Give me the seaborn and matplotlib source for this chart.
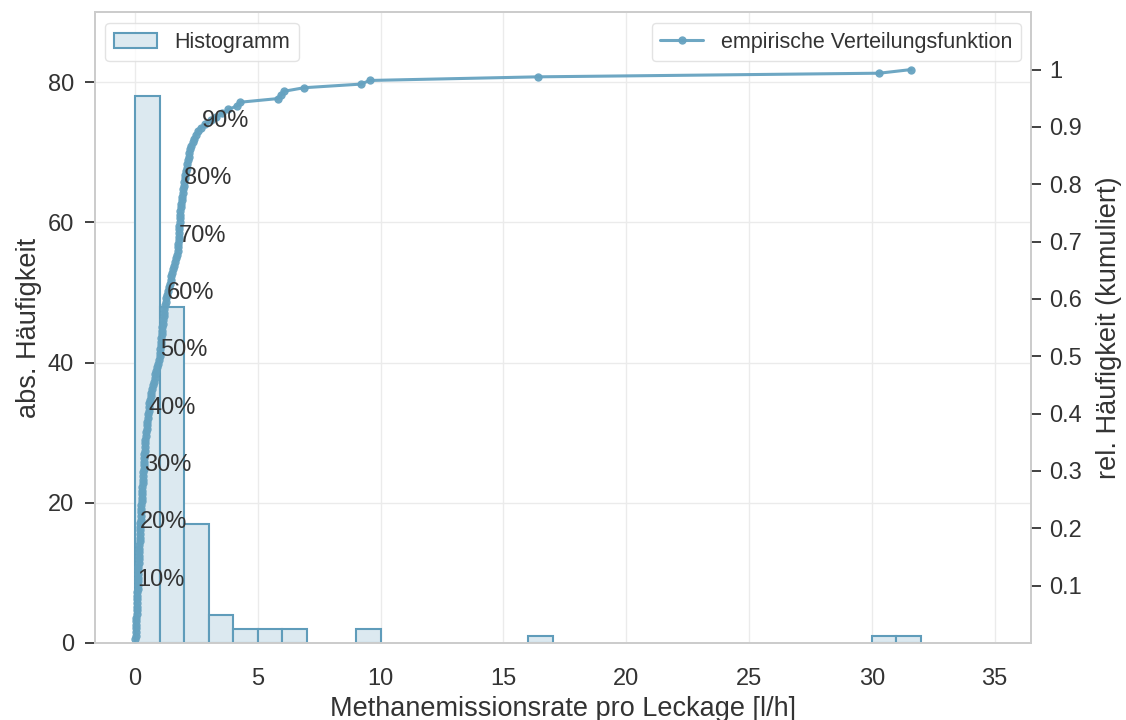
import numpy as np
import pandas as pd
import matplotlib
matplotlib.use("Agg")
import matplotlib.pyplot as plt
import seaborn as sns
from matplotlib.ticker import FormatStrFormatter

# ---- data ----
bin0 = [0.01, 0.02, 0.03, 0.03, 0.04, 0.05, 0.05, 0.06, 0.07, 0.07, 0.08, 0.08, 0.09, 0.09, 0.10, 0.10,
        0.11, 0.11, 0.12, 0.12,
        0.13, 0.14, 0.14, 0.15, 0.16, 0.16, 0.17, 0.18, 0.18, 0.19, 0.20, 0.20, 0.21, 0.22, 0.23, 0.24,
        0.25, 0.26,
        0.27, 0.28, 0.29, 0.30, 0.30, 0.31, 0.32, 0.33, 0.34, 0.35, 0.36, 0.36, 0.37, 0.38, 0.39, 0.40,
        0.41, 0.42, 0.44,
        0.46, 0.47, 0.49, 0.50, 0.52, 0.53, 0.55, 0.56, 0.58, 0.60,
        0.63, 0.66, 0.69, 0.72, 0.75, 0.79, 0.83, 0.87, 0.91, 0.94, 0.98]
bin1 = [1.01, 1.02, 1.03, 1.05, 1.06, 1.07, 1.09, 1.10, 1.11, 1.13, 1.14, 1.16, 1.17, 1.19, 1.21,
        1.24, 1.27, 1.31, 1.34, 1.38, 1.41, 1.45, 1.48, 1.52, 1.56, 1.59, 1.63, 1.66, 1.70, 1.73,
        1.75, 1.76, 1.77, 1.78, 1.78, 1.79, 1.80, 1.81, 1.81, 1.82,
        1.84, 1.86, 1.88, 1.90, 1.92, 1.94, 1.96, 1.98]
bin2 = [2.01, 2.03, 2.05, 2.08, 2.10, 2.13, 2.15, 2.18, 2.21, 2.24, 2.27,
        2.34, 2.41, 2.48, 2.55, 2.68, 2.86]
tail = [3.10, 3.30, 3.55, 3.80, 4.15, 4.27, 5.80, 5.95, 6.05, 6.88, 9.20, 9.55, 16.40, 30.30, 31.60]

percent_levels = [0.1, 0.2, 0.3, 0.4, 0.5, 0.6, 0.7, 0.8, 0.9]
percent_labels = ["10%", "20%", "30%", "40%", "50%", "60%", "70%", "80%", "90%"]
right_ticks = [0.1, 0.2, 0.3, 0.4, 0.5, 0.6, 0.7, 0.8, 0.9, 1.0]

values = np.sort(np.array(bin0 + bin1 + bin2 + tail))
n = len(values)
ecdf = np.arange(1, n + 1) / n
df = pd.DataFrame({"x": values, "F": ecdf})

# ---- styling ----
sns.set_theme(style="whitegrid")
plt.rcParams["font.family"] = ["Liberation Sans", "DejaVu Sans"]
FS_TICK = 17
FS_LABEL = 19.5
FS_LEG = 15.5
txt_col = "#333333"
line_col = "#66a2c0"
face_col = "#dce9f0"
edge_col = "#5f9cba"

fig, ax = plt.subplots(figsize=(11.26, 7.2), dpi=100)
fig.subplots_adjust(left=0.084, right=0.916, top=0.983, bottom=0.107)

sns.histplot(x=values, binwidth=1, binrange=(0, 32), ax=ax, color=face_col,
             edgecolor=edge_col, linewidth=1.5, alpha=1, label="Histogramm")
for p in ax.patches:
    if p.get_height() == 0:
        p.set_visible(False)

ax.set_xlim(-1.65, 36.5)
ax.set_ylim(0, 90)
ax.set_xticks([0, 5, 10, 15, 20, 25, 30, 35])
ax.set_yticks([0, 20, 40, 60, 80])
ax.set_xlabel("Methanemissionsrate pro Leckage [l/h]", fontsize=FS_LABEL, color=txt_col, labelpad=4)
ax.set_ylabel("abs. Häufigkeit", fontsize=FS_LABEL, color=txt_col, labelpad=4)
ax.tick_params(axis="both", labelsize=FS_TICK, labelcolor=txt_col)
ax.tick_params(axis="x", pad=12)
ax.tick_params(axis="y", left=True, length=7, width=1.3, color=txt_col, pad=8)
ax.grid(True, color="#ebebeb", lw=1)
for s in ax.spines.values():
    s.set_color("#cccccc")
    s.set_linewidth(1.3)

ax2 = ax.twinx()
sns.lineplot(data=df, x="x", y="F", ax=ax2, estimator=None, sort=False, color=line_col,
             lw=2.2, marker="o", markersize=6, markeredgewidth=0, alpha=0.95,
             label="empirische Verteilungsfunktion")
ax2.set_ylim(0, 1.1)
ax2.set_yticks(right_ticks)
ax2.yaxis.set_major_formatter(FormatStrFormatter("%g"))
ax2.grid(False)
ax2.set_ylabel("rel. Häufigkeit (kumuliert)", fontsize=FS_LABEL, color=txt_col, labelpad=10)
ax2.set_xlabel("")
ax2.tick_params(axis="y", right=True, length=7, width=1.3, color=txt_col, pad=6,
                labelsize=FS_TICK, labelcolor=txt_col)
for s in ax2.spines.values():
    s.set_color("#cccccc")
    s.set_linewidth(1.3)

qs = np.quantile(values, percent_levels)
for q, lev, lab in zip(qs, percent_levels, percent_labels):
    ax2.text(q, lev, lab, ha="left", va="baseline", fontsize=FS_TICK, color=txt_col)

leg1 = ax.legend(loc="upper left", fontsize=FS_LEG, frameon=True)
leg2 = ax2.legend(loc="upper right", fontsize=FS_LEG, frameon=True)
for lg in (leg1, leg2):
    lg.get_frame().set_edgecolor("#dddddd")
    for t in lg.get_texts():
        t.set_color(txt_col)

fig.savefig("out.png", dpi=100)
